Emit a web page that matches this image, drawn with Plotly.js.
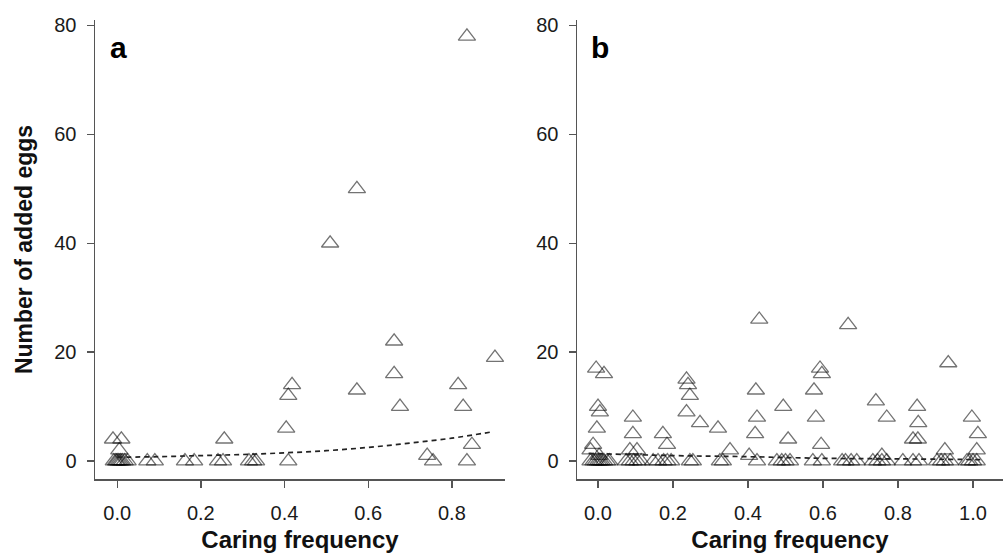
<!DOCTYPE html>
<html>
<head>
<meta charset="utf-8">
<script src="https://cdn.plot.ly/plotly-3.0.1.min.js"></script>
<style>html,body{margin:0;padding:0;background:#fff;}#chart{width:1003px;height:557px;}</style>
</head>
<body>
<div id="chart"></div>
<script>
// Panel a: caring frequency vs number of added eggs
const aCaring = [-0.01,0.01,0.005,-0.008,-0.003,0.0,0.004,0.008,0.012,0.018,0.025,
  0.072,0.09,0.162,0.184,0.241,0.253,0.256,0.315,0.325,0.332,0.404,0.409,0.418,0.409,
  0.509,0.573,0.573,0.662,0.662,0.676,0.741,0.755,0.815,0.827,0.836,0.836,0.848,0.903];
const aEggs = [4,4,2,0,0,0,0,0,0,0,0,
  0,0,0,0,0,0,4,0,0,0,6,12,14,0,
  40,50,13,22,16,10,1,0,14,10,78,0,3,19];
// Panel a fitted (dashed) curve
const aFitX = [0.0,0.1,0.2,0.3,0.4,0.5,0.6,0.7,0.8,0.9];
const aFitY = [0.7,0.8,1.0,1.2,1.5,1.9,2.5,3.3,4.2,5.4];

// Panel b
const bCaring = [-0.005,0.016,0.0,0.005,-0.003,-0.013,-0.02,0.003,-0.02,-0.012,-0.006,0,0.005,0.01,0.016,0.024,0.03,
  0.093,0.093,0.085,0.104,0.075,0.085,0.095,0.105,0.115,
  0.173,0.184,0.147,0.16,0.175,0.185,0.195,
  0.236,0.24,0.245,0.236,0.272,0.245,0.253,
  0.32,0.352,0.325,0.333,
  0.43,0.421,0.424,0.419,0.403,0.424,
  0.494,0.507,0.477,0.49,0.5,0.512,
  0.576,0.592,0.597,0.581,0.595,0.573,0.597,
  0.667,0.651,0.66,0.675,0.69,
  0.741,0.77,0.757,0.733,0.745,0.757,0.77,
  0.851,0.854,0.84,0.853,0.813,0.84,0.856,
  0.934,0.925,0.904,0.915,0.925,0.939,
  0.997,1.013,1.01,0.984,0.99,1.0,1.01];
const bEggs = [17,16,10,9,6,3,2,1,0,0,0,0,0,0,0,0,0,
  8,5,2,2,0,0,0,0,0,
  5,3,0,0,0,0,0,
  15,14,12,9,7,0,0,
  6,2,0,0,
  26,13,8,5,1,0,
  10,4,0,0,0,0,
  13,17,16,8,3,0,0,
  25,0,0,0,0,
  11,8,1,0,0,0,0,
  10,7,4,4,0,0,0,
  18,2,0,0,0,0,
  8,5,2,0,0,0,0];
const bFitX = [-0.025,0.2,0.4,0.6,0.8,1.03];
const bFitY = [1.4,1.0,0.8,0.5,0.4,0.25];

const yTicks = [0,20,40,60,80];
const aXTicks = [0,0.2,0.4,0.6,0.8];
const bXTicks = [0,0.2,0.4,0.6,0.8,1.0];

const markerStyle = {symbol:'triangle-up-open', size:15, color:'rgba(0,0,0,0.55)', line:{width:1.3}};
const lineStyle = {color:'#222', width:1.7, dash:'5px,4px', shape:'spline'};

const traces = [
  {x:aCaring, y:aEggs, type:'scatter', mode:'markers', marker:markerStyle, xaxis:'x', yaxis:'y', showlegend:false},
  {x:aFitX, y:aFitY, type:'scatter', mode:'lines', line:lineStyle, xaxis:'x', yaxis:'y', showlegend:false},
  {x:bCaring, y:bEggs, type:'scatter', mode:'markers', marker:markerStyle, xaxis:'x2', yaxis:'y2', showlegend:false},
  {x:bFitX, y:bFitY, type:'scatter', mode:'lines', line:lineStyle, xaxis:'x2', yaxis:'y2', showlegend:false}
];

const fam = 'Liberation Sans, Arial, sans-serif';
const tickFont = {family:fam, size:20, color:'#1a1a1a'};
const xTitleFont = {family:fam, size:24, color:'#111', weight:'bold'};
const yTitleFont = {family:fam, size:23, color:'#111', weight:'bold'};
const axisCommon = {showline:true, linecolor:'#555', linewidth:1.5, ticks:'outside', ticklen:7, tickwidth:1.3, tickcolor:'#555',
  showgrid:false, zeroline:false, tickfont:tickFont};

const layout = {
  width:1003, height:557,
  margin:{l:0,r:0,t:0,b:0},
  paper_bgcolor:'#fff', plot_bgcolor:'#fff',
  showlegend:false,
  xaxis: Object.assign({}, axisCommon, {domain:[95/1003, 505/1003], range:[-0.053, 0.927], tickvals:aXTicks, tickformat:'.1f', anchor:'y',
    ticklabelstandoff:8, title:{text:'Caring frequency', font:xTitleFont, standoff:8}}),
  yaxis: Object.assign({}, axisCommon, {domain:[78/557, 537/557], range:[-3.3, 81], tickvals:yTicks, anchor:'x',
    ticklabelstandoff:6, title:{text:'Number of added eggs', font:yTitleFont, standoff:15}}),
  xaxis2: Object.assign({}, axisCommon, {domain:[577/1003, 1], range:[-0.056, 1.08], tickvals:bXTicks, tickformat:'.1f', anchor:'y2',
    ticklabelstandoff:8, title:{text:'Caring frequency', font:xTitleFont, standoff:8}}),
  yaxis2: Object.assign({}, axisCommon, {domain:[78/557, 537/557], range:[-3.3, 81], tickvals:yTicks, anchor:'x2', ticklabelstandoff:6}),
  annotations:[
    {text:'<b>a</b>', xref:'paper', yref:'paper', x:118/1003, y:1-47/557, xanchor:'center', yanchor:'middle', showarrow:false,
      font:{family:fam, size:30, color:'#000'}},
    {text:'<b>b</b>', xref:'paper', yref:'paper', x:600/1003, y:1-47/557, xanchor:'center', yanchor:'middle', showarrow:false,
      font:{family:fam, size:30, color:'#000'}}
  ]
};

Plotly.newPlot('chart', traces, layout, {displayModeBar:false, staticPlot:true});
</script>
</body>
</html>
